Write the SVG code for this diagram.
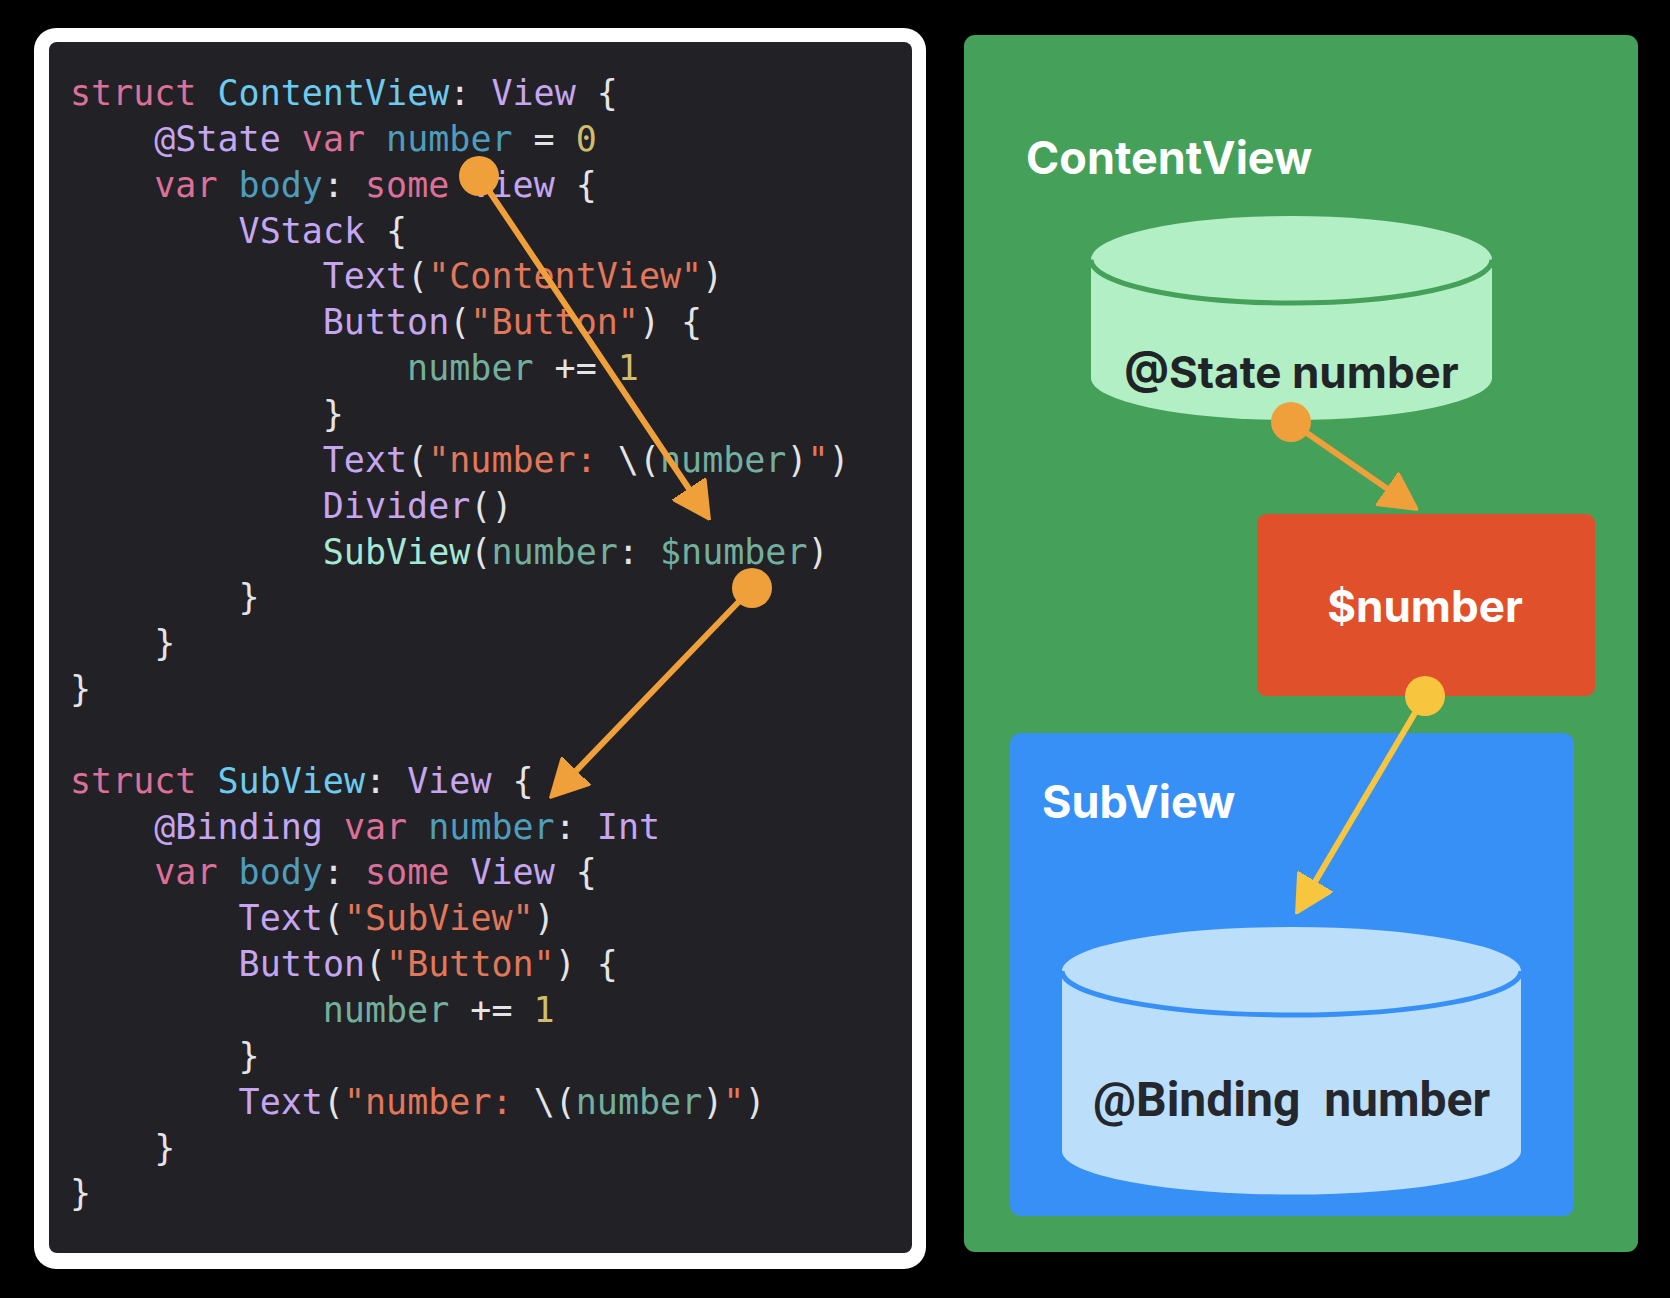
<svg xmlns="http://www.w3.org/2000/svg" width="1670" height="1298" viewBox="0 0 1670 1298">
<defs>
<style>
.code{font-family:"DejaVu Sans Mono","Liberation Mono",monospace;font-size:35px;fill:#E4E4E6}
.kw{fill:#DD7098}
.ty{fill:#6CCBEE}
.lv{fill:#C6A6F0}
.dc{fill:#4F9DBB}
.vr{fill:#74AF9E}
.mt{fill:#A6E8D4}
.st{fill:#E2775A}
.nm{fill:#D0BC6E}
.title{font-family:Inter,"Liberation Sans",sans-serif;font-weight:700;fill:#FFFFFF}
.lbl{font-family:Inter,"Liberation Sans",sans-serif;font-weight:700;fill:#212427}
.conn{stroke-width:6;fill:none;stroke-linecap:round}
</style>
<marker id="ahO" viewBox="0 0 38 40" refX="0" refY="20" markerWidth="38" markerHeight="40" markerUnits="userSpaceOnUse" orient="auto"><path d="M0,0 L38,20 L0,40 Z" fill="#F0A03A" stroke="#F0A03A" stroke-width="2" stroke-linejoin="round"/></marker>
<marker id="ahY" viewBox="0 0 38 40" refX="0" refY="20" markerWidth="38" markerHeight="40" markerUnits="userSpaceOnUse" orient="auto"><path d="M0,0 L38,20 L0,40 Z" fill="#F8C63E" stroke="#F8C63E" stroke-width="2" stroke-linejoin="round"/></marker>
</defs>
<rect x="0" y="0" width="1670" height="1298" fill="#000000"/>

<g id="code-panel">
<rect x="34" y="28" width="892" height="1241" rx="22" fill="#FFFFFF"/>
<rect x="49" y="42" width="863" height="1211" rx="8" fill="#212126"/>
<text class="code" x="70" y="105"><tspan class="kw">struct</tspan> <tspan class="ty">ContentView</tspan>: <tspan class="lv">View</tspan> {</text>
<text class="code" x="154.3" y="150.85"><tspan class="lv">@State</tspan> <tspan class="kw">var</tspan> <tspan class="dc">number</tspan> = <tspan class="nm">0</tspan></text>
<text class="code" x="154.3" y="196.7"><tspan class="kw">var</tspan> <tspan class="dc">body</tspan>: <tspan class="kw">some</tspan> <tspan class="lv">View</tspan> {</text>
<text class="code" x="238.6" y="242.55"><tspan class="lv">VStack</tspan> {</text>
<text class="code" x="322.8" y="288.4"><tspan class="lv">Text</tspan>(<tspan class="st">"ContentView"</tspan>)</text>
<text class="code" x="322.8" y="334.25"><tspan class="lv">Button</tspan>(<tspan class="st">"Button"</tspan>) {</text>
<text class="code" x="407.1" y="380.1"><tspan class="vr">number</tspan> += <tspan class="nm">1</tspan></text>
<text class="code" x="322.8" y="425.95">}</text>
<text class="code" x="322.8" y="471.8"><tspan class="lv">Text</tspan>(<tspan class="st">"number: </tspan>\(<tspan class="vr">number</tspan>)<tspan class="st">"</tspan>)</text>
<text class="code" x="322.8" y="517.65"><tspan class="lv">Divider</tspan>()</text>
<text class="code" x="322.8" y="563.5"><tspan class="mt">SubView</tspan>(<tspan class="vr">number</tspan>: <tspan class="vr">$number</tspan>)</text>
<text class="code" x="238.6" y="609.35">}</text>
<text class="code" x="154.3" y="655.2">}</text>
<text class="code" x="70" y="701.05">}</text>
<text class="code" x="70" y="792.75"><tspan class="kw">struct</tspan> <tspan class="ty">SubView</tspan>: <tspan class="lv">View</tspan> {</text>
<text class="code" x="154.3" y="838.6"><tspan class="lv">@Binding</tspan> <tspan class="kw">var</tspan> <tspan class="dc">number</tspan>: <tspan class="lv">Int</tspan></text>
<text class="code" x="154.3" y="884.45"><tspan class="kw">var</tspan> <tspan class="dc">body</tspan>: <tspan class="kw">some</tspan> <tspan class="lv">View</tspan> {</text>
<text class="code" x="238.6" y="930.3"><tspan class="lv">Text</tspan>(<tspan class="st">"SubView"</tspan>)</text>
<text class="code" x="238.6" y="976.15"><tspan class="lv">Button</tspan>(<tspan class="st">"Button"</tspan>) {</text>
<text class="code" x="322.8" y="1022"><tspan class="vr">number</tspan> += <tspan class="nm">1</tspan></text>
<text class="code" x="238.6" y="1067.85">}</text>
<text class="code" x="238.6" y="1113.7"><tspan class="lv">Text</tspan>(<tspan class="st">"number: </tspan>\(<tspan class="vr">number</tspan>)<tspan class="st">"</tspan>)</text>
<text class="code" x="154.3" y="1159.55">}</text>
<text class="code" x="70" y="1205.4">}</text>
</g>

<g id="contentview">
<rect x="964" y="35" width="674" height="1217" rx="11" fill="#45A15A"/>
<text class="title" x="1026" y="174" font-size="45">ContentView</text>
</g>

<g id="state-number">
<path d="M1091,259.5 A200.5,43.5 0 0 1 1492,259.5 L1492,378 A200.5,42 0 0 1 1091,378 Z" fill="#B3EFC4"/>
<path d="M1091,259.5 A200.5,43.5 0 0 0 1492,259.5" fill="none" stroke="#45A15A" stroke-width="5"/>
<text class="lbl" x="1291.5" y="388" font-size="44" text-anchor="middle">@State number</text>
</g>

<g id="binding-value">
<rect x="1257" y="514" width="338" height="182" rx="9" fill="#E0502B"/>
<text class="title" x="1425" y="622" font-size="44" text-anchor="middle">$number</text>
</g>

<g id="subview">
<rect x="1010" y="733" width="564" height="483" rx="11" fill="#3790F6"/>
<text class="title" x="1042" y="818" font-size="45">SubView</text>
</g>

<g id="binding-number">
<path d="M1062,971 A229.5,44 0 0 1 1521,971 L1521,1151 A229.5,43.5 0 0 1 1062,1151 Z" fill="#BBDEFA"/>
<path d="M1062,971 A229.5,44 0 0 0 1521,971" fill="none" stroke="#3790F6" stroke-width="5"/>
<text x="1291.5" y="1116" font-family="Roboto,'Liberation Sans',sans-serif" font-weight="700" font-size="48" fill="#24272D" text-anchor="middle" xml:space="preserve">@Binding  number</text>
</g>

<g id="connectors">
<line class="conn" x1="479" y1="176" x2="688.8" y2="488.5" stroke="#F0A03A" marker-end="url(#ahO)"/>
<circle cx="479" cy="176" r="20" fill="#F0A03A"/>
<line class="conn" x1="752" y1="588" x2="576.3" y2="770.6" stroke="#F0A03A" marker-end="url(#ahO)"/>
<circle cx="752" cy="588" r="20" fill="#F0A03A"/>
<line class="conn" x1="1291" y1="422" x2="1386.8" y2="488.4" stroke="#F0A03A" marker-end="url(#ahO)"/>
<circle cx="1291" cy="422" r="20" fill="#F0A03A"/>
<line class="conn" x1="1425" y1="696" x2="1315.4" y2="881.3" stroke="#F8C63E" marker-end="url(#ahY)"/>
<circle cx="1425" cy="696" r="20" fill="#F8C63E"/>
</g>
</svg>
